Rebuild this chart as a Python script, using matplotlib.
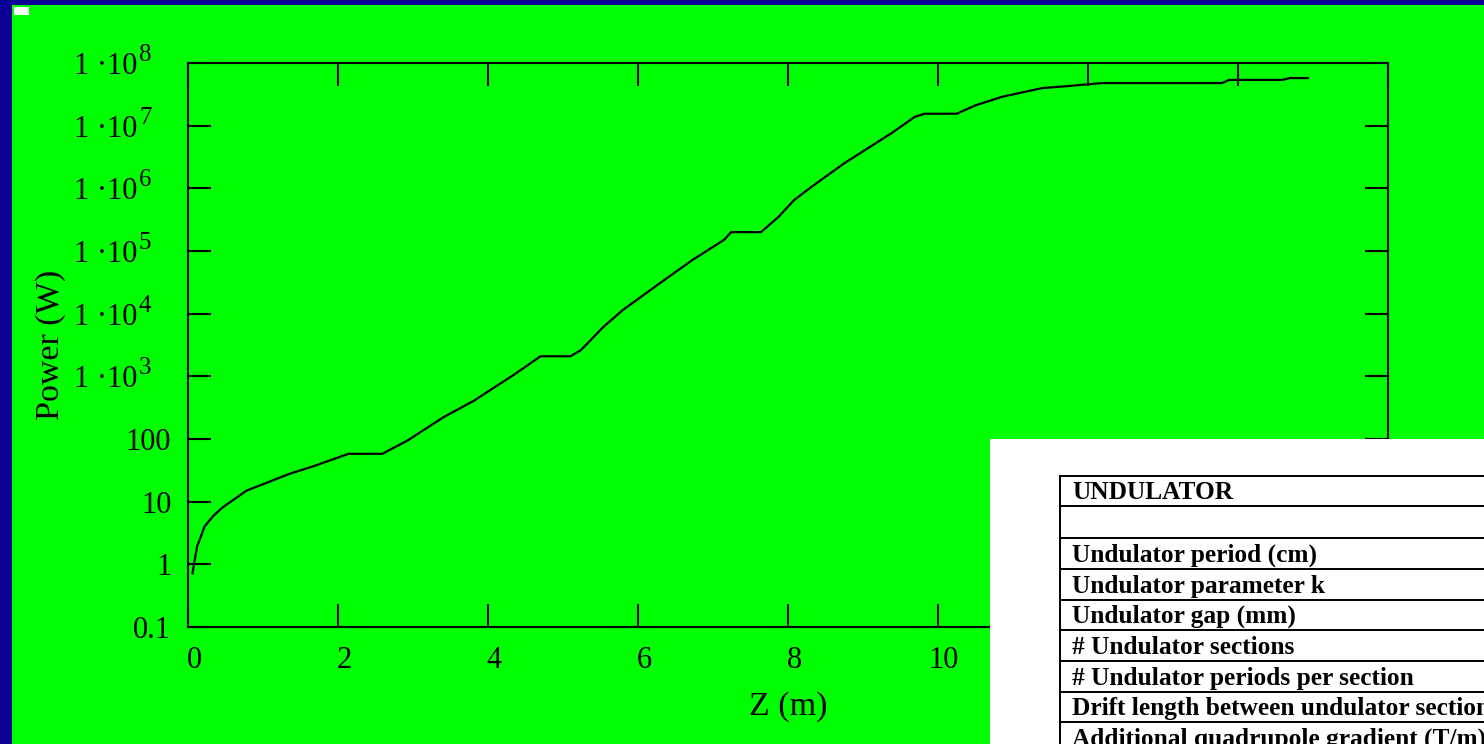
import matplotlib
matplotlib.use("Agg")
import matplotlib.pyplot as plt
import matplotlib.transforms as mtransforms
from matplotlib.patches import Rectangle

# Output power along the undulator
z_m = [0.06, 0.12, 0.22, 0.33, 0.45, 0.78, 1.36, 1.68, 2.14, 2.59, 2.93,
       3.41, 3.81, 4.34, 4.70, 5.10, 5.24, 5.54, 5.80, 6.26, 6.73, 7.15,
       7.24, 7.64, 7.87, 8.08, 8.31, 8.75, 9.38, 9.69, 9.82, 10.25, 10.49,
       10.85, 11.16, 11.39, 11.72, 12.19, 13.79, 13.88, 14.59, 14.69, 14.93]
power_w = [0.72, 1.9, 4.0, 5.8, 7.9, 15, 28, 37, 58, 58, 95,
           224, 407, 1050, 2090, 2090, 2630, 6170, 11500, 28800, 72400, 151000,
           200000, 200000, 347000, 646000, 1.05e6, 2.51e6, 7.59e6, 1.38e7, 1.55e7, 1.55e7, 2.09e7,
           2.88e7, 3.47e7, 3.98e7, 4.27e7, 4.79e7, 4.79e7, 5.37e7, 5.37e7, 5.75e7, 5.75e7]

x_ticks = [0, 2, 4, 6, 8, 10, 12, 14, 16]
x_labels = ["0", "2", "4", "6", "8", "10", "", "", ""]   # the rest sit under the table
y_ticks = [0.1, 1, 10, 100, 1e3, 1e4, 1e5, 1e6, 1e7, 1e8]
y_labels = ["0.1", "1", "10", "100", "1 ·10", "1 ·10", "1 ·10", "1 ·10", "1 ·10", "1 ·10"]
y_exponents = ["", "", "", "", "3", "4", "5", "6", "7", "8"]

table_rows = ["UNDULATOR", "", "Undulator period (cm)", "Undulator parameter k",
              "Undulator gap (mm)", "# Undulator sections",
              "# Undulator periods per section",
              "Drift length between undulator sections",
              "Additional quadrupole gradient (T/m)"]

GREEN = "#00ff00"
BLUE = "#0a0096"

plt.rcParams["font.family"] = ["Liberation Serif", "DejaVu Serif"]

W, H = 1484, 744
fig = plt.figure(figsize=(W / 100, H / 100), dpi=100, facecolor=BLUE)

# green slide area with the blue frame on the left and top
fig.patches.append(Rectangle((12 / W, 0), 1, 1 - 5 / H, transform=fig.transFigure,
                             facecolor=GREEN, edgecolor="none", zorder=-10))
fig.patches.append(Rectangle((14 / W, 1 - 15 / H), 15 / W, 8 / H, transform=fig.transFigure,
                             facecolor="white", edgecolor="none", zorder=-5))

ax = fig.add_axes([188 / W, 1 - 627 / H, 1200 / W, 564 / H])
ax.set_facecolor(GREEN)
ax.plot(z_m, power_w, color="black", lw=1.6)
ax.set_yscale("log")
ax.set_xlim(0, 16)
ax.set_ylim(0.1, 1e8)
ax.set_xticks(x_ticks)
ax.set_xticklabels(x_labels)
ax.set_yticks(y_ticks)
ax.set_yticklabels(y_labels)
ax.minorticks_off()
ax.tick_params(axis="both", which="major", direction="in", length=16.5, width=1.5,
               labelsize=22, top=True, right=True, color="black")
ax.tick_params(axis="y", pad=12)
ax.tick_params(axis="x", pad=14)
for s in ax.spines.values():
    s.set_linewidth(1.5)

# mathcad style offsets for tick labels
shift_x = mtransforms.ScaledTranslation(6 / 100, 0, fig.dpi_scale_trans)
for lab in ax.get_xticklabels():
    lab.set_transform(lab.get_transform() + shift_x)
shift_y = mtransforms.ScaledTranslation(-34 / 100, 0, fig.dpi_scale_trans)
for lab, ex in zip(ax.get_yticklabels(), y_exponents):
    if ex:
        lab.set_transform(lab.get_transform() + shift_y)

# exponents of the 1·10^n labels
for val, ex in zip(y_ticks, y_exponents):
    if ex:
        ax.annotate(ex, xy=(0, val), xycoords=ax.get_yaxis_transform(),
                    xytext=(-49, 2), textcoords="offset pixels",
                    ha="left", va="baseline", fontsize=18, annotation_clip=False)

ax.set_ylabel("Power (W)", fontsize=24.5, labelpad=6)
ax.set_xlabel("Z (m)", fontsize=24.5, labelpad=11)

# parameter table pasted over the lower right corner
tab = fig.add_axes([990 / W, 0, 494 / W, 305 / H], zorder=5)
tab.set_facecolor("white")
tab.set_xlim(990, 1484)
tab.set_ylim(744, 439)
tab.axis("off")
tab.add_patch(Rectangle((990, 439), 494, 305, facecolor="white", edgecolor="none"))
row_edges = [476, 506, 538, 569, 600, 630, 661, 692, 722, 753]
tab.plot([1060, 1060], [476, 744], color="black", lw=1.4)
for yl in row_edges[:-1]:
    tab.plot([1060, 1484], [yl, yl], color="black", lw=1.4)
for i, txt in enumerate(table_rows):
    tab.text(1072, row_edges[i + 1] - 7, txt, fontsize=18.3, fontweight="bold",
             ha="left", va="baseline", clip_on=True)

fig.savefig("out.png", dpi=100, facecolor=fig.get_facecolor())
